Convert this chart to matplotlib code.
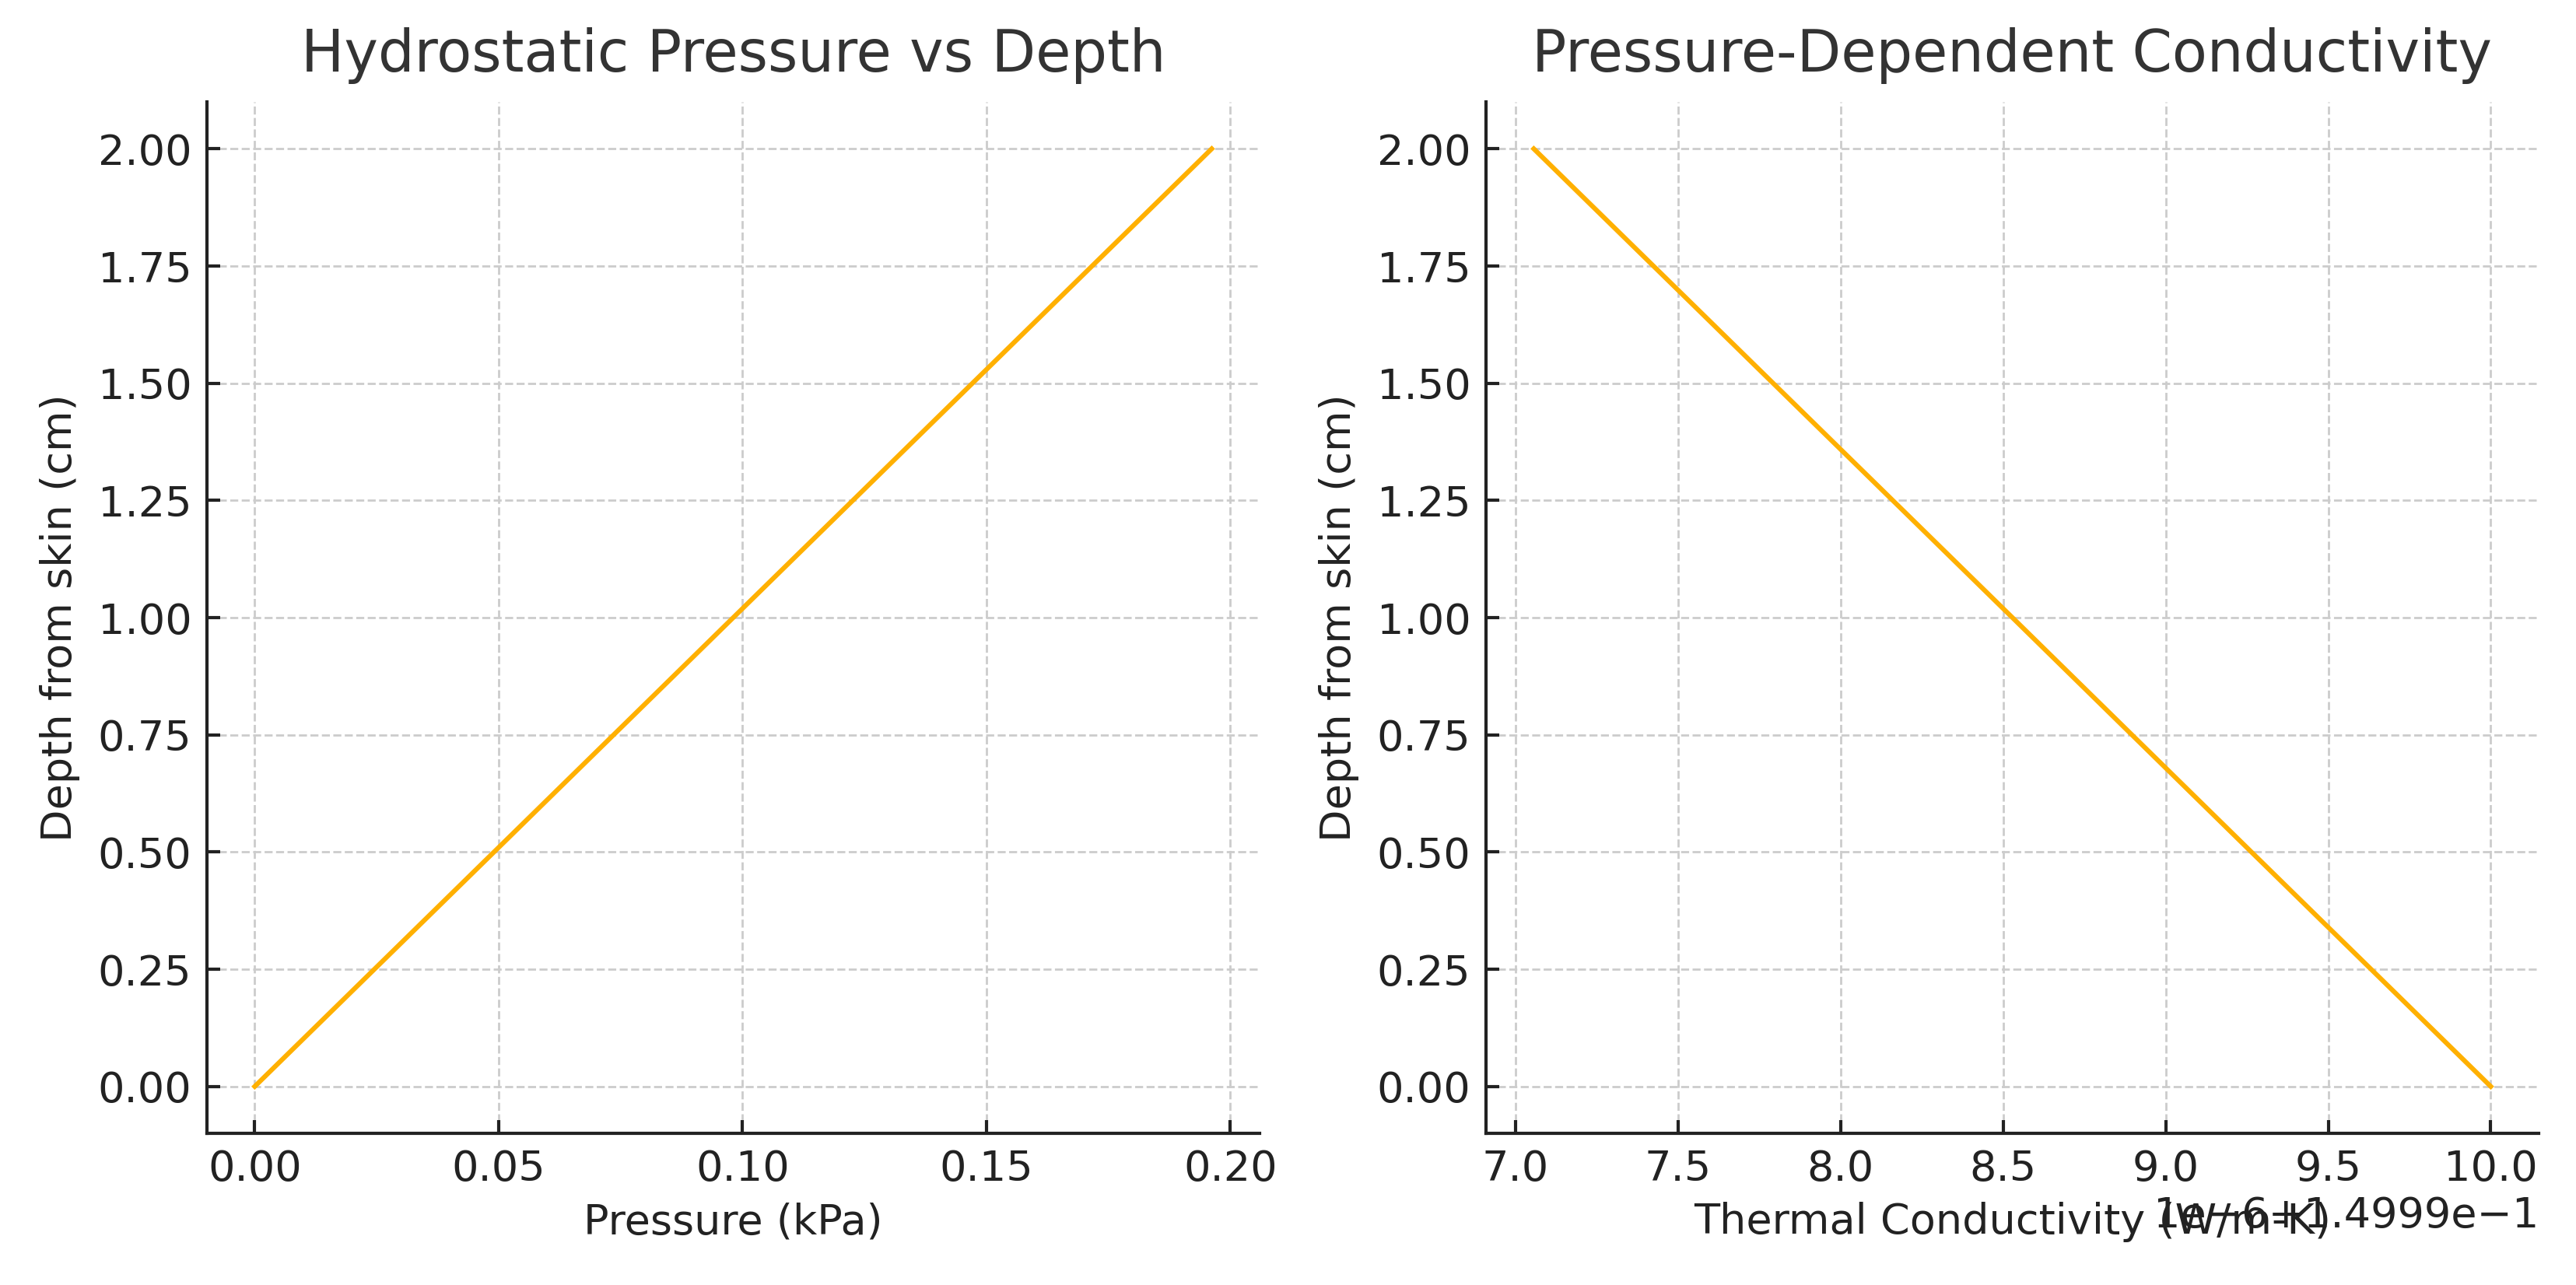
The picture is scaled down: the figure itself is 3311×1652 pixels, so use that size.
import numpy as np
import matplotlib
matplotlib.use("Agg")
import matplotlib.pyplot as plt

# depth from skin (cm), pressure (kPa), conductivity (W/m-K)
depth = [0.0, 0.5, 1.0, 1.5, 2.0]
pressure = [0.0, 0.04905, 0.0981, 0.14715, 0.1962]
conductivity = [0.15, 0.149999264, 0.149998529, 0.149997793, 0.149997057]
pressure_ticks = [0.0, 0.05, 0.10, 0.15, 0.20]

plt.rcParams['font.family'] = 'DejaVu Sans'
plt.rcParams['axes.edgecolor'] = '#222222'
plt.rcParams['xtick.color'] = '#222222'
plt.rcParams['ytick.color'] = '#222222'

fig, (ax1, ax2) = plt.subplots(1, 2, figsize=(16.555, 8.26), dpi=200)
fig.subplots_adjust(left=0.0803, right=0.9855, bottom=0.118, top=0.9207, wspace=0.215)

line_col = '#FFB000'

ax1.plot(pressure, depth, color=line_col, lw=2.2)
ax1.set_title("Hydrostatic Pressure vs Depth", fontsize=26.5, color='#333333', pad=14)
ax1.set_xlabel("Pressure (kPa)", fontsize=19.5, color='#222222', labelpad=6)
ax1.set_ylabel("Depth from skin (cm)", fontsize=19.5, color='#222222', labelpad=8)
ax1.set_xticks(pressure_ticks)

ax2.plot(conductivity, depth, color=line_col, lw=2.2)
ax2.set_title("Pressure-Dependent Conductivity", fontsize=26.5, color='#333333', pad=14)
ax2.set_xlabel("Thermal Conductivity (W/m-K)", fontsize=19.5, color='#222222', labelpad=6)
ax2.set_ylabel("Depth from skin (cm)", fontsize=19.5, color='#222222', labelpad=8)

for ax in (ax1, ax2):
    ax.grid(True, linestyle='--', color='#cccccc', lw=1.0)
    ax.spines['top'].set_visible(False)
    ax.spines['right'].set_visible(False)
    ax.spines['left'].set_linewidth(1.5)
    ax.spines['bottom'].set_linewidth(1.5)
    ax.tick_params(direction='in', labelsize=19.5, length=6, width=1.5, pad=7)
    ax.xaxis.get_offset_text().set_fontsize(19.5)

fig.savefig("out.png", dpi=200)
